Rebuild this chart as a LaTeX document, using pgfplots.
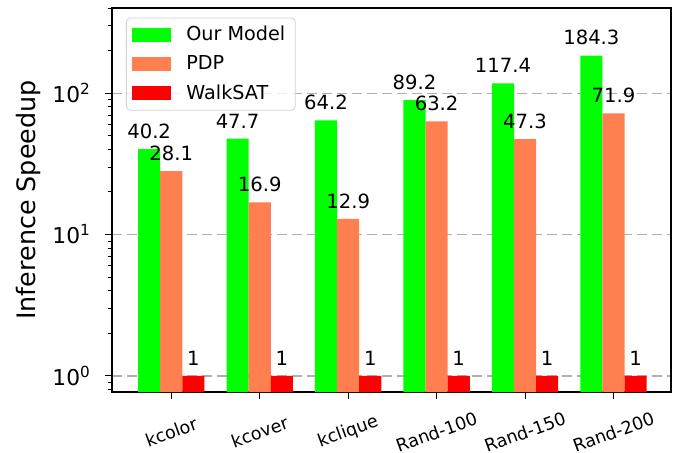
\documentclass[border=0pt]{standalone}
\usepackage{fontspec}
\setmainfont{DejaVu Sans}
\usepackage{pgfplots}
\pgfplotsset{compat=1.18}
\usetikzlibrary{calc}
\definecolor{ourgreen}{RGB}{0,255,0}
\definecolor{pdpcoral}{RGB}{255,127,80}
\definecolor{wsred}{RGB}{255,0,0}
\definecolor{gridgray}{RGB}{176,176,176}

\begin{document}
\begin{tikzpicture}
\begin{axis}[
  scale only axis,
  width=279.5pt, height=192pt,
  ymode=log,
  log origin y=infty,
  ymin=0.77, ymax=400,
  xmin=-0.67, xmax=5.65,
  ybar=0pt,
  bar width=0.25,
  xtick=data,
  xticklabels={kcolor,kcover,kclique,Rand-100,Rand-150,Rand-200},
  xticklabel style={font=\fontsize{8.8}{10}\selectfont, inner sep=0.5pt, anchor=center, yshift=-16.5pt, rotate=20},
  ytick={1,10,100},
  yticklabels={10\textsuperscript{0},10\textsuperscript{1},10\textsuperscript{2}},
  minor ytick={0.8,0.9,2,3,4,5,6,7,8,9,20,30,40,50,60,70,80,90,200,300,400},
  yticklabel style={font=\fontsize{10.9}{13}\selectfont, xshift=-3.5pt},
  tick align=outside,
  major tick length=3.5pt,
  minor tick length=2pt,
  tick style={black, line width=0.5pt},
  xtick pos=bottom, ytick pos=left,
  ymajorgrids=true,
  major grid style={gridgray, dash pattern=on 5pt off 2.5pt, line width=0.6pt},
  axis line style={black, line width=0.6pt},
  ylabel={Inference Speedup},
  ylabel style={font=\fontsize{12.7}{15}\selectfont, at={(axis description cs:0,0.5)}, anchor=center, yshift=42pt},
  point meta=explicit symbolic,
  nodes near coords,
  nodes near coords style={font=\fontsize{9.8}{11}\selectfont, anchor=south, inner sep=0pt, yshift=5pt},
  legend cell align=left,
  legend style={at={(0.025,0.975)}, anchor=north west, font=\fontsize{9.6}{11}\selectfont,
    draw=gray!35, rounded corners=2pt, fill=white, fill opacity=0.8, text opacity=1,
    inner xsep=3pt, inner ysep=2pt, row sep=2pt},
  legend image code/.code={\fill[#1, sharp corners, opacity=1] (0pt,-3.5pt) rectangle (19.5pt,3.5pt);
    \path (25pt,0pt);},
]
\addplot[fill=ourgreen, draw=none] coordinates {
  (0,40.2) [40.2] (1,47.7) [47.7] (2,64.2) [64.2]
  (3,89.2) [89.2] (4,117.4) [117.4] (5,184.3) [184.3]};
\addplot[fill=pdpcoral, draw=none] coordinates {
  (0,28.1) [28.1] (1,16.9) [16.9] (2,12.9) [12.9]
  (3,63.2) [63.2] (4,47.3) [47.3] (5,71.9) [71.9]};
\addplot[fill=wsred, draw=none] coordinates {
  (0,1) [1] (1,1) [1] (2,1) [1]
  (3,1) [1] (4,1) [1] (5,1) [1]};
\legend{Our Model, PDP, WalkSAT}
\coordinate (sw) at (rel axis cs:0,0);
\coordinate (ne) at (rel axis cs:1,1);
\end{axis}
\pgfresetboundingbox
\path ($(sw)+(-56pt,-30pt)$) rectangle ($(ne)+(6.5pt,4pt)$);
\end{tikzpicture}
\end{document}
